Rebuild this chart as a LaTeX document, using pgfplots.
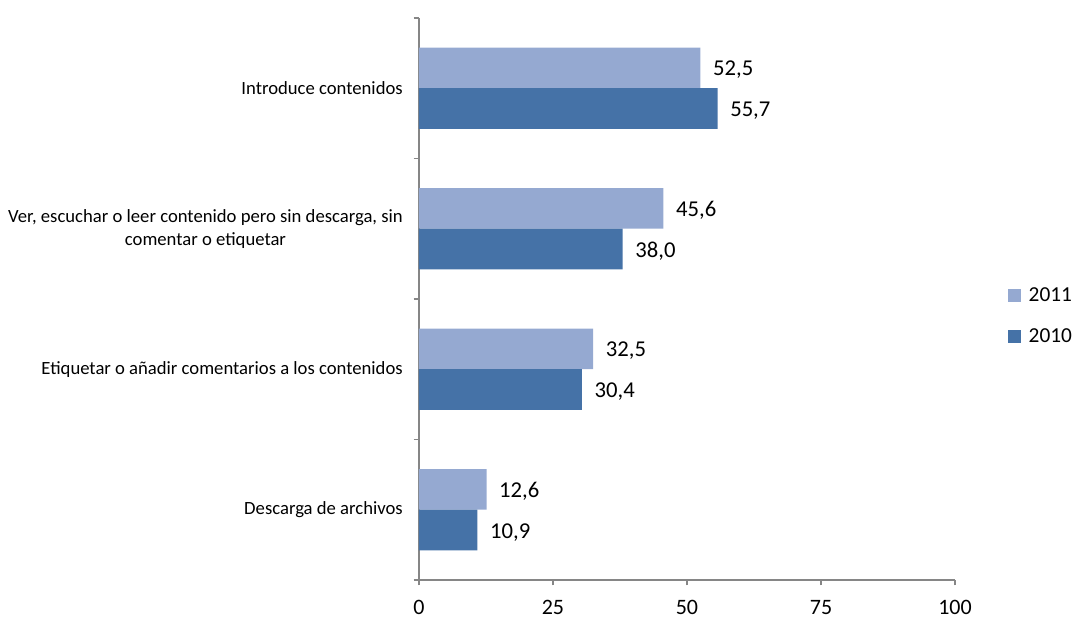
\documentclass[border=0pt]{standalone}
\usepackage{fontspec}
\setmainfont{Carlito}
\usepackage{pgfplots}
\pgfplotsset{compat=1.18}
\definecolor{c2011}{RGB}{149,169,209}
\definecolor{c2010}{RGB}{69,114,167}
\definecolor{axgray}{RGB}{134,134,134}
\begin{document}
\begin{tikzpicture}
\useasboundingbox (-314.25pt,-30.75pt) rectangle (494.25pt,435pt);
\begin{axis}[
  anchor=south west, at={(0,0)},
  scale only axis, width=402pt, height=421.5pt,
  xmin=0, xmax=100, ymin=0.5, ymax=4.5,
  axis x line*=bottom, axis y line*=left,
  axis line style={draw=axgray, line width=0.9pt},
  tick align=outside,
  xtick={0,25,50,75,100},
  major tick length=4pt,
  minor tick length=4pt,
  xtick style={draw=axgray, line width=0.9pt},
  ytick={1,2,3,4},
  yticklabels={Descarga de archivos, Etiquetar o añadir comentarios a los contenidos, {Ver, escuchar o leer contenido pero sin descarga, sin\\comentar o etiquetar}, Introduce contenidos},
  ytick style={draw=none},
  minor ytick={0.5,1.5,2.5,3.5,4.5},
  minor y tick style={draw=axgray, line width=0.9pt},
  yticklabel style={align=center, font=\fontsize{14}{17.5}\selectfont, inner sep=0pt, xshift=-8pt},
  xticklabel style={font=\fontsize{16.5}{19}\selectfont, inner sep=0pt, yshift=-11pt},
  /pgf/number format/assume math mode=true,
  point meta=x,
  nodes near coords,
  nodes near coords style={anchor=west, font=\fontsize{17}{20}\selectfont, xshift=6pt,
    /pgf/number format/fixed, /pgf/number format/fixed zerofill,
    /pgf/number format/precision=1, /pgf/number format/use comma},
  legend style={draw=none, at={(1.099,0.47)}, anchor=west, inner sep=0pt,
    font=\fontsize{16}{19}\selectfont, row sep=15pt},
  legend cell align=left,
  legend image code/.code={\fill[#1] (0pt,-4.9pt) rectangle (9.8pt,4.9pt); \path (13.3pt,0pt);},
  clip=false,
]
\addplot[xbar, bar width=0.29, bar shift=0.145, fill=c2011, draw=none,
  every node near coord/.append style={yshift=13.8pt}]
  coordinates {(12.6,1) (32.5,2) (45.6,3) (52.5,4)};
\addlegendentry{2011}
\addplot[xbar, bar width=0.29, bar shift=-0.145, fill=c2010, draw=none,
  every node near coord/.append style={yshift=-16.8pt}]
  coordinates {(10.9,1) (30.4,2) (38.0,3) (55.7,4)};
\addlegendentry{2010}
\end{axis}
\end{tikzpicture}
\end{document}
